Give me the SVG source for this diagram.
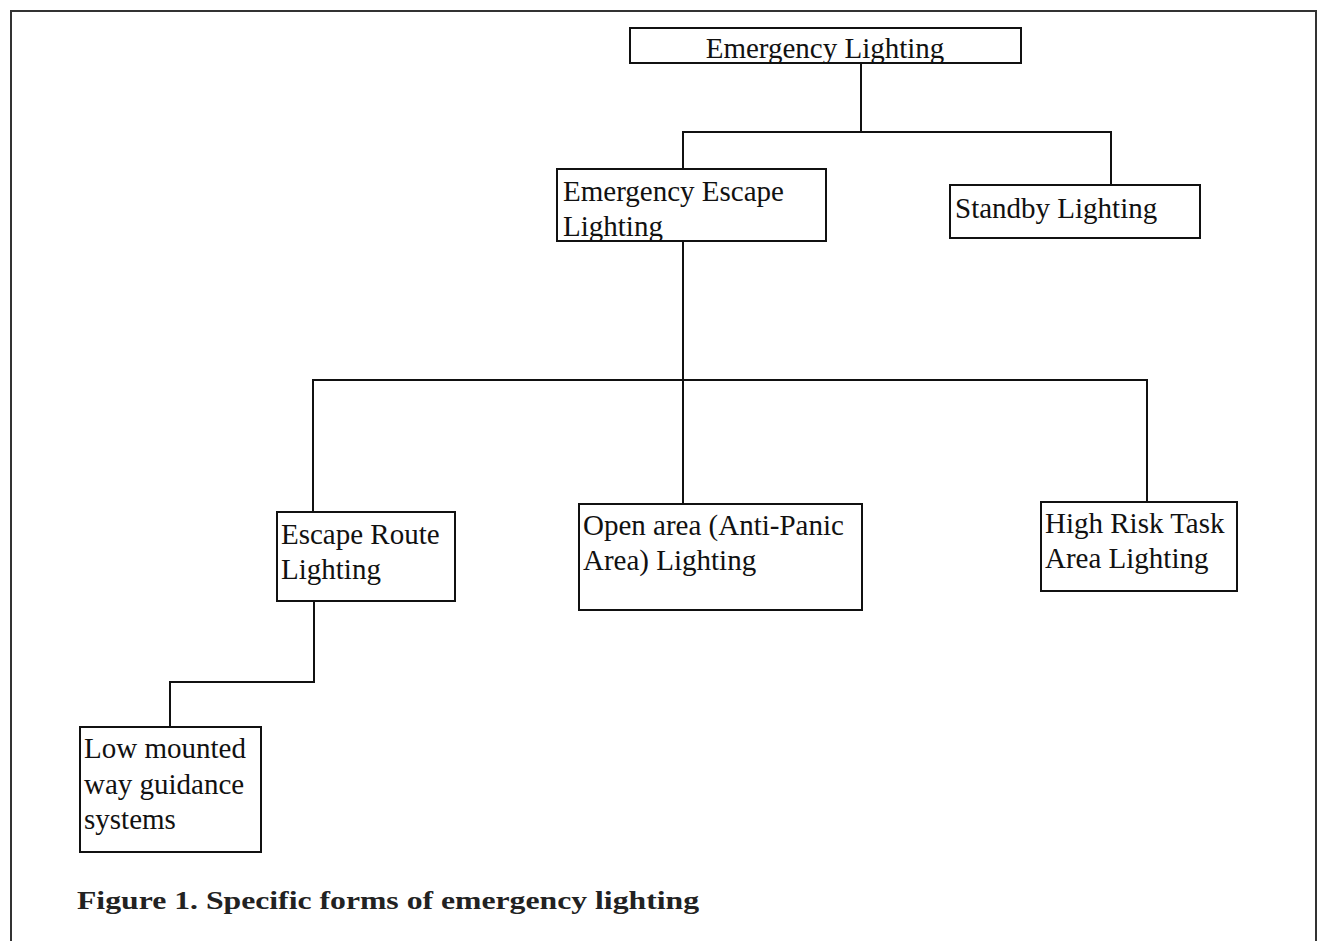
<svg xmlns="http://www.w3.org/2000/svg" width="1323" height="941" viewBox="0 0 1323 941">
<style>
.box{fill:#fff;stroke:#111;stroke-width:2}
.lbl{font-family:"Liberation Serif","Times New Roman",serif;font-size:29px;fill:#111}
.conn{fill:none;stroke:#111;stroke-width:2}
.cap{font-family:"Liberation Serif","Times New Roman",serif;font-size:25px;font-weight:bold;fill:#222}
</style>
<rect width="1323" height="941" fill="#fff"/>
<path d="M11 941 V11 H1316 V941" fill="none" stroke="#333" stroke-width="2"/>
<g id="connectors" class="conn">
<path d="M861 63 V132"/>
<path d="M683 169 V132 H1111 V185"/>
<path d="M683 241 V504"/>
<path d="M313 512 V380 H1147 V502"/>
<path d="M314 601 V682 H170 V727"/>
</g>
<g id="n-emergency">
<rect class="box" x="630" y="28" width="391" height="35"/>
<text class="lbl" x="825" y="58" text-anchor="middle">Emergency Lighting</text>
</g>
<g id="n-escape">
<rect class="box" x="557" y="169" width="269" height="72"/>
<text class="lbl" x="563" y="201">Emergency Escape</text>
<text class="lbl" x="563" y="236">Lighting</text>
</g>
<g id="n-standby">
<rect class="box" x="950" y="185" width="250" height="53"/>
<text class="lbl" x="955" y="218">Standby Lighting</text>
</g>
<g id="n-route">
<rect class="box" x="277" y="512" width="178" height="89"/>
<text class="lbl" x="281" y="544">Escape Route</text>
<text class="lbl" x="281" y="579">Lighting</text>
</g>
<g id="n-open">
<rect class="box" x="579" y="504" width="283" height="106"/>
<text class="lbl" x="583" y="535">Open area (Anti-Panic</text>
<text class="lbl" x="583" y="570">Area) Lighting</text>
</g>
<g id="n-highrisk">
<rect class="box" x="1041" y="502" width="196" height="89"/>
<text class="lbl" x="1045" y="533">High Risk Task</text>
<text class="lbl" x="1045" y="568">Area Lighting</text>
</g>
<g id="n-low">
<rect class="box" x="80" y="727" width="181" height="125"/>
<text class="lbl" x="84" y="758">Low mounted</text>
<text class="lbl" x="84" y="794">way guidance</text>
<text class="lbl" x="84" y="829">systems</text>
</g>
<text class="cap" x="77" y="909" textLength="622" lengthAdjust="spacingAndGlyphs">Figure 1. Specific forms of emergency lighting</text>
</svg>
